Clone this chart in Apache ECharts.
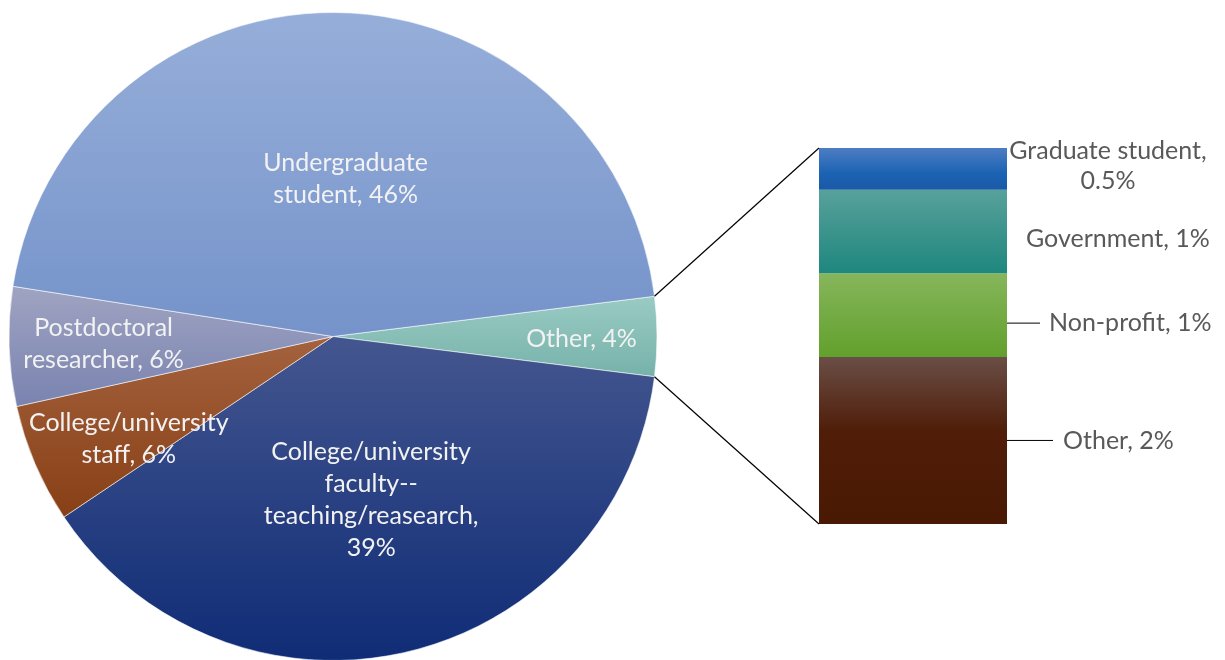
<!DOCTYPE html>
<html>
<head>
<meta charset="utf-8">
<script src="https://cdn.jsdelivr.net/npm/echarts@6/dist/echarts.min.js"></script>
<style>
  html, body { margin: 0; padding: 0; background: #ffffff; }
  #chart { width: 1225px; height: 660px; }
</style>
</head>
<body>
<div id="chart"></div>
<script>
// Main pie: respondent roles (percent). "Other" is broken out in the bar.
const pieNames  = ['Other', 'College/university\nfaculty--\nteaching/reasearch', 'College/university\nstaff', 'Postdoctoral\nresearcher', 'Undergraduate\nstudent'];
const pieValues = [4, 39, 6, 6, 46];

// Breakdown of "Other", stacked bottom to top.
const barNames  = ['Other', 'Non-profit', 'Government', 'Graduate student'];
const barValues = [2, 1, 1, 0.5];

const FONT = 'Lato';
const FS = 25;

function grad(top, bottom, stop) {
  const stops = [{ offset: 0, color: top }];
  if (stop) stops.push({ offset: stop[0], color: stop[1] });
  stops.push({ offset: 1, color: bottom });
  return { type: 'linear', x: 0, y: 0, x2: 0, y2: 1, colorStops: stops };
}

const pieFills = [
  grad('#99cbc3', '#76b2aa'),
  grad('#44568f', '#0f2c76'),
  grad('#a4623e', '#883f15'),
  grad('#a0a4c2', '#7983b0'),
  grad('#96aed9', '#7593ca')
];

// small nudges for the slice labels, in pixels
const pieLabelNudge = [[9, 2], [0, 3], [16, 8], [10, 0], [10, 7]];

const barFills = [
  grad('#6a4e46', '#4a1904', [0.45, '#4f1d08']),
  grad('#86b65c', '#62a02c'),
  grad('#58a19b', '#1e877e'),
  grad('#4d7dc3', '#1a59a6', [0.6, '#1c63b3'])
];

function labelText(name, value) {
  const lines = name.split('\n');
  const last = lines[lines.length - 1];
  return name + (last.length > 14 ? ',\n' : ', ') + value + '%';
}

const pieTotal = pieValues.reduce((a, b) => a + b, 0);
const barTotal = barValues.reduce((a, b) => a + b, 0);
const startAngle = 360 * (pieValues[0] / pieTotal) / 2;
const CENTER = [333, 336.5];
const R = 324;
const SMALL = 10;

const pieTextStyle = {
  color: '#f2f2f2', fontFamily: FONT, fontSize: FS, lineHeight: 32, align: 'center'
};

const chart = echarts.init(document.getElementById('chart'), null, { renderer: 'canvas' });

chart.setOption({
  animation: false,
  backgroundColor: '#ffffff',
  grid: { left: 819, top: 148, width: 188, height: 376 },
  xAxis: { type: 'category', data: [''], show: false },
  yAxis: { type: 'value', min: 0, max: barTotal, show: false },
  series: [
    {
      type: 'pie',
      center: CENTER,
      radius: [0, R],
      startAngle: startAngle,
      clockwise: true,
      avoidLabelOverlap: false,
      silent: true,
      itemStyle: { borderColor: 'rgba(255,255,255,0.7)', borderWidth: 0.8 },
      labelLine: { show: false },
      data: pieNames.map((n, i) => ({
        name: n, value: pieValues[i],
        itemStyle: { color: pieFills[i] },
        label: Object.assign({
          show: pieValues[i] >= SMALL, position: 'inside',
          offset: pieLabelNudge[i],
          formatter: p => labelText(p.name, p.value)
        }, pieTextStyle)
      }))
    },
    {
      // transparent ring so small-slice labels sit further out
      type: 'pie',
      center: CENTER,
      radius: [R * 0.46, R],
      startAngle: startAngle,
      clockwise: true,
      avoidLabelOverlap: false,
      silent: true,
      itemStyle: { color: 'rgba(0,0,0,0)' },
      labelLine: { show: false },
      data: pieNames.map((n, i) => ({
        name: n, value: pieValues[i],
        label: Object.assign({
          show: pieValues[i] < SMALL, position: 'inside',
          offset: pieLabelNudge[i],
          formatter: p => labelText(p.name, p.value)
        }, pieTextStyle)
      }))
    }
  ].concat(barNames.map((n, i) => {
    const base = {
      type: 'bar', name: n, stack: 'other', barWidth: '100%',
      silent: true,
      data: [barValues[i]],
      itemStyle: { color: barFills[i] },
      label: {
        show: true, position: 'right', color: '#595959',
        fontFamily: FONT, fontSize: FS, lineHeight: 30,
        backgroundColor: 'rgba(255,255,255,0)',
        formatter: p => labelText(p.seriesName, p.value)
      },
      labelLine: { show: false, lineStyle: { color: '#000', width: 1 } }
    };
    if (n === 'Graduate student') {
      base.label.align = 'center';
      base.label.distance = 101;
      base.labelLayout = { dy: -3 };
    } else if (n === 'Government') {
      base.label.distance = 19;
      base.labelLayout = { dy: 7 };
    } else if (n === 'Non-profit') {
      base.label.distance = 1;
      base.label.padding = [0, 0, 0, 9];
      base.labelLayout = { dx: 32, dy: 8 };
      base.labelLine.show = true;
    } else {
      base.label.distance = 1;
      base.label.padding = [0, 0, 0, 10];
      base.labelLayout = { dx: 45 };
      base.labelLine.show = true;
    }
    return base;
  }))
});

// Connector lines from the "Other" slice edges to the corners of the bar.
(function addConnectors() {
  const data = chart.getModel().getSeriesByIndex(0).getData();
  const lay = data.getItemLayout(0);
  const gridRect = chart.getModel().getComponent('grid').coordinateSystem.getRect();
  const yTop = chart.convertToPixel({ yAxisIndex: 0 }, barTotal);
  const yBot = chart.convertToPixel({ yAxisIndex: 0 }, 0);
  const p1 = [lay.cx + lay.r * Math.cos(lay.startAngle), lay.cy + lay.r * Math.sin(lay.startAngle)];
  const p2 = [lay.cx + lay.r * Math.cos(lay.endAngle), lay.cy + lay.r * Math.sin(lay.endAngle)];
  const style = { stroke: '#000000', lineWidth: 1.2 };
  chart.setOption({
    graphic: [
      { type: 'line', silent: true, z: 10, shape: { x1: p1[0], y1: p1[1], x2: gridRect.x, y2: yTop }, style },
      { type: 'line', silent: true, z: 10, shape: { x1: p2[0], y1: p2[1], x2: gridRect.x, y2: yBot }, style }
    ]
  });
})();
</script>
</body>
</html>
